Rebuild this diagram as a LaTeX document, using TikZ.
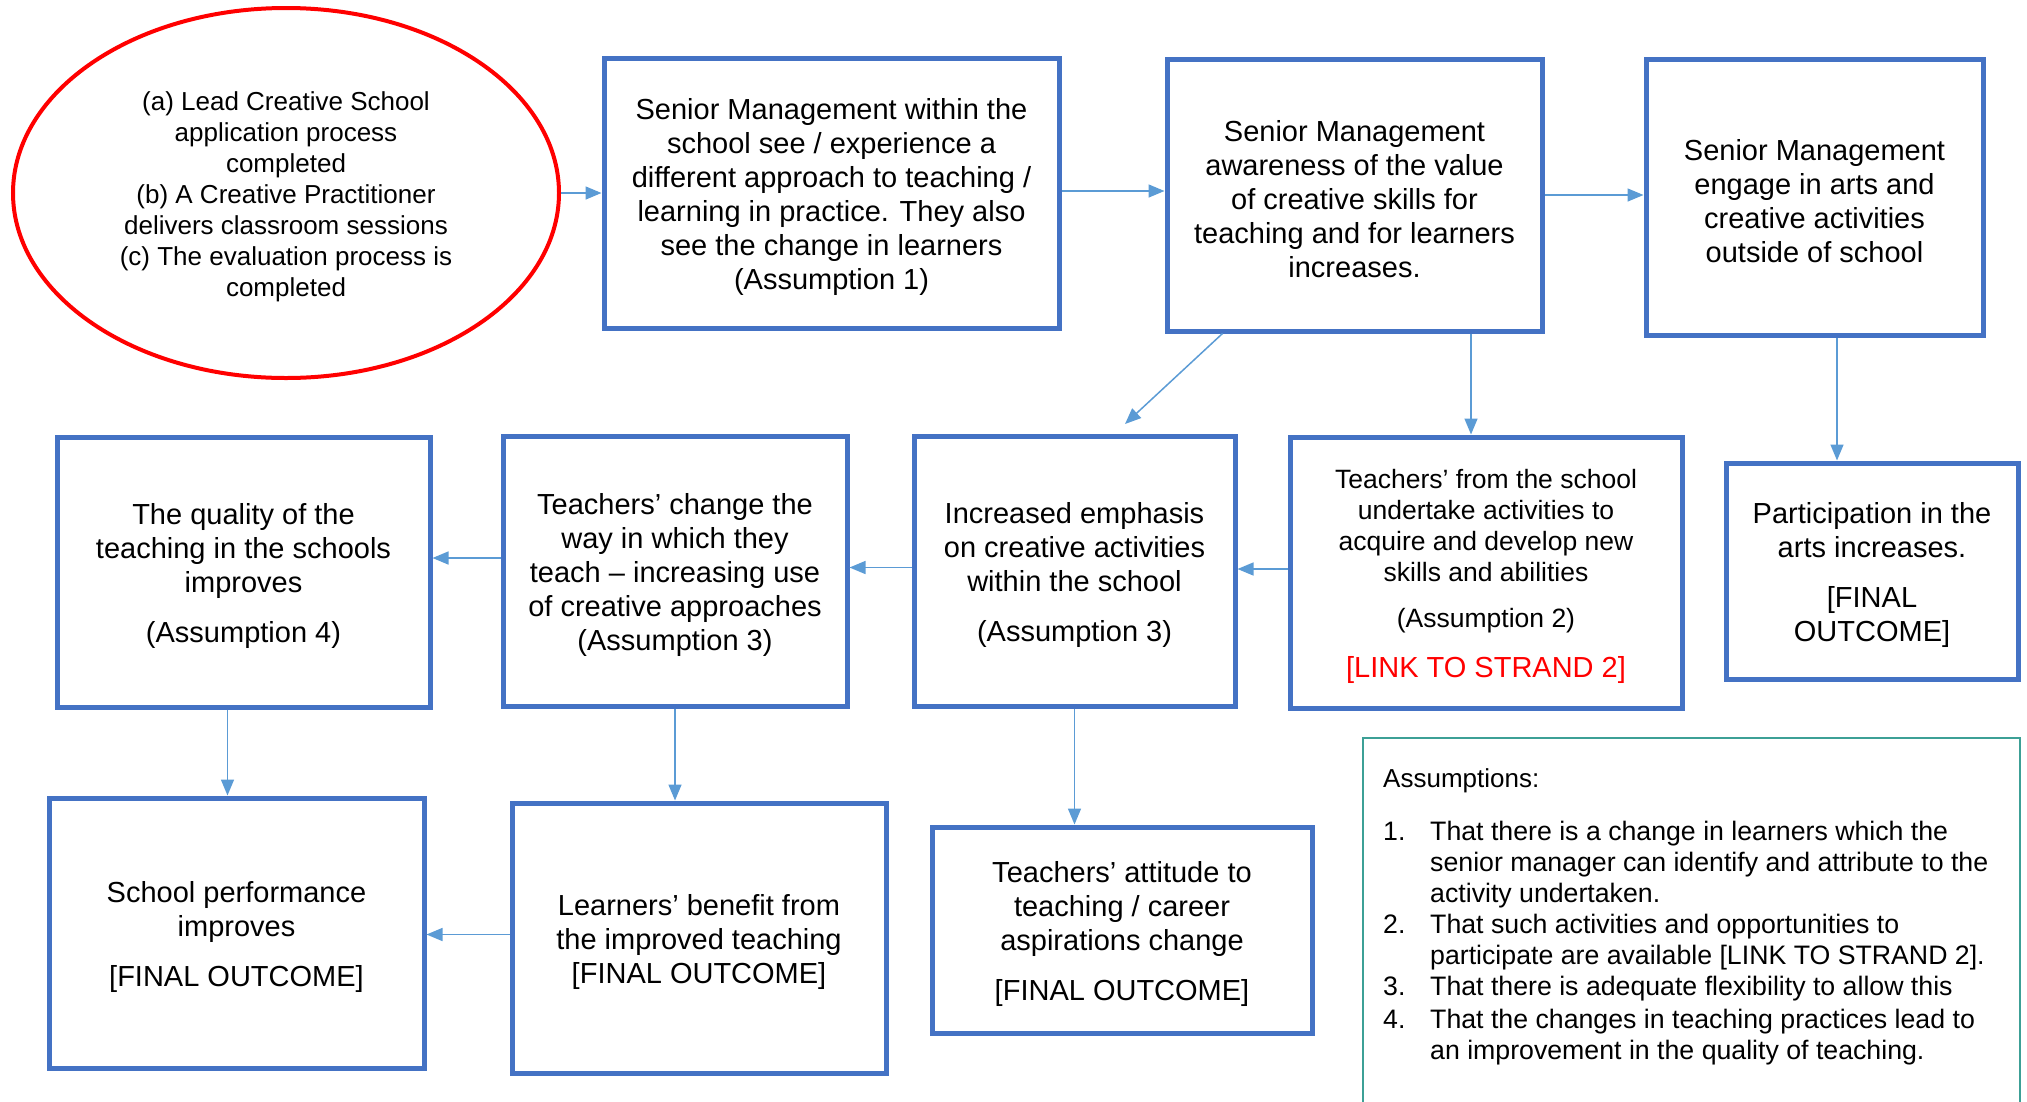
\documentclass[tikz,border=0pt]{standalone}
\usepackage{fontspec}
\setmainfont{Liberation Sans}
\usetikzlibrary{arrows.meta,shapes.geometric}
\definecolor{boxblue}{HTML}{4472C4}
\definecolor{arrblue}{HTML}{5B9BD5}
\definecolor{tealbox}{RGB}{60,160,150}
\newcommand\topstrut{\rule{0pt}{1em}}
\begin{document}
\begin{tikzpicture}[x=1pt,y=-1pt,
  bbox/.style={draw=boxblue, line width=5pt, align=center, inner sep=0pt,
    font=\fontsize{29pt}{34pt}\selectfont},
  arr/.style={draw=arrblue, line width=1.5pt, -{Triangle[length=16pt,width=13pt]}}]
\useasboundingbox (0,0) rectangle (2027,1101);

\node[ellipse, draw=red, line width=4pt, minimum width=546pt, minimum height=370pt,
  align=center, inner sep=0pt, font=\fontsize{26pt}{31pt}\selectfont] (start) at (286,193)
  {\topstrut(a) Lead Creative School\\application process\\completed\\(b) A Creative Practitioner\\delivers classroom sessions\\(c) The evaluation process is\\completed};

\node[bbox, minimum width=455pt, minimum height=270pt] (A) at (831.5,193)
  {\topstrut Senior Management within the\\school see / experience a\\different approach to teaching /\\learning in practice. They also\\see the change in learners\\(Assumption 1)};
\node[bbox, minimum width=375pt, minimum height=272pt] (B) at (1354.5,195)
  {\topstrut Senior Management\\awareness of the value\\of creative skills for\\teaching and for learners\\increases.};
\node[bbox, minimum width=337pt, minimum height=276pt] (C) at (1814.5,197)
  {\topstrut Senior Management\\engage in arts and\\creative activities\\outside of school};
\node[bbox, minimum width=392pt, minimum height=271pt, font=\fontsize{26.5pt}{31pt}\selectfont] (D) at (1486,572.5)
  {\topstrut Teachers’ from the school\\undertake activities to\\acquire and develop new\\skills and abilities\\[15pt](Assumption 2)\\[19pt]{\color{red}\fontsize{29pt}{34pt}\selectfont {[}LINK TO STRAND 2{]}}};
\node[bbox, minimum width=292pt, minimum height=216pt] (E) at (1872,571)
  {\topstrut Participation in the\\arts increases.\\[16pt]{[}FINAL\\OUTCOME{]}};
\node[bbox, minimum width=321pt, minimum height=270pt] (F) at (1074.5,571)
  {\topstrut Increased emphasis\\on creative activities\\within the school\\[16pt](Assumption 3)};
\node[bbox, minimum width=344pt, minimum height=270pt] (G) at (675,571)
  {\topstrut Teachers’ change the\\way in which they\\teach – increasing use\\of creative approaches\\(Assumption 3)};
\node[bbox, minimum width=373pt, minimum height=270pt] (H) at (243.5,572)
  {\topstrut The quality of the\\teaching in the schools\\improves\\[16pt](Assumption 4)};
\node[bbox, minimum width=375pt, minimum height=270pt] (I) at (236.5,933)
  {\topstrut School performance\\improves\\[16pt]{[}FINAL OUTCOME{]}};
\node[bbox, minimum width=374pt, minimum height=270pt] (J) at (699,938)
  {\topstrut Learners’ benefit from\\the improved teaching\\{[}FINAL OUTCOME{]}};
\node[bbox, minimum width=380pt, minimum height=206pt] (K) at (1122,930)
  {\topstrut Teachers’ attitude to\\teaching / career\\aspirations change\\[16pt]{[}FINAL OUTCOME{]}};

\node[draw=tealbox, line width=1.5pt, anchor=north west, minimum width=657pt, minimum height=400pt, inner sep=0pt] (asbox) at (1362,737) {};
\node[anchor=north west, align=left, inner sep=0pt, font=\fontsize{26pt}{31pt}\selectfont] (aslist) at (1383,768.5)
  {Assumptions:\\[24.5pt]
   {\fontsize{26.7pt}{31pt}\selectfont
   \begin{tabular}{@{}p{47pt}@{}l@{}}
   1. & That there is a change in learners which the\\
      & senior manager can identify and attribute to the\\
      & activity undertaken.\\
   2. & That such activities and opportunities to\\
      & participate are available {[}LINK TO STRAND 2{]}.\\
   3. & That there is adequate flexibility to allow this\\[2pt]
   4. & That the changes in teaching practices lead to\\
      & an improvement in the quality of teaching.
   \end{tabular}}};

\coordinate (fT) at (1125,424);
\draw[arr] (start.east) -- (A.west);
\draw[arr] ([yshift=2pt]A.east) -- ([yshift=2pt]A.east -| B.west);
\draw[arr] (B.east) -- (B.east -| C.west);
\draw[arr] ([xshift=58pt]B.south west) -- (fT);
\draw[arr] ([xshift=-15pt]D.north |- B.south) -- ([xshift=-15pt]D.north);
\draw[arr] ([xshift=-35pt]E.north |- C.south) -- ([xshift=-35pt]E.north);
\draw[arr] ([yshift=3.5pt]D.west) -- ([yshift=3.5pt]D.west -| F.east);
\draw[arr] ([yshift=3.5pt]F.west) -- ([yshift=3.5pt]F.west -| G.east);
\draw[arr] ([yshift=13pt]G.west) -- ([yshift=13pt]G.west -| H.east);
\draw[arr] ([xshift=-16pt]H.south) -- ([xshift=-16pt]H.south |- I.north);
\draw[arr] (G.south) -- (G.south |- J.north);
\draw[arr] (F.south) -- (F.south |- K.north);
\draw[arr] ([yshift=3.5pt]J.west) -- ([yshift=3.5pt]J.west -| I.east);
\end{tikzpicture}
\end{document}
